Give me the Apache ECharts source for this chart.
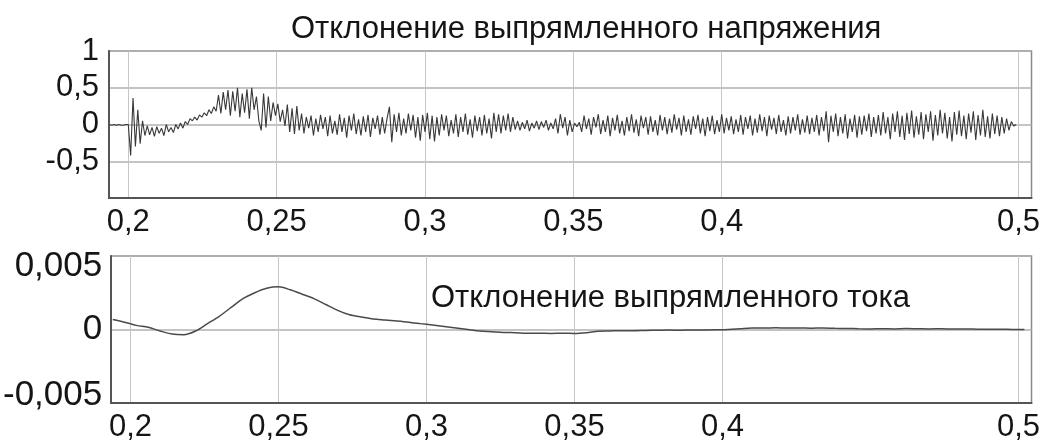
<!DOCTYPE html>
<html>
<head>
<meta charset="utf-8">
<script src="https://cdn.jsdelivr.net/npm/echarts@6/dist/echarts.min.js"></script>
<style>
  html, body { margin: 0; padding: 0; background: #fff; }
  #chart { width: 1043px; height: 445px; }
</style>
</head>
<body>
<div id="chart"></div>
<script>
// Time axis tick positions (s)
const timeTicks = [0.2, 0.25, 0.3, 0.35, 0.4, 0.5];
const voltTicks = [-1, -0.5, 0, 0.5, 1];
const currTicks = [-0.005, 0, 0.005];

// Rectified voltage deviation, sampled every voltStep seconds from voltStart
const voltStart = 0.1936;
const voltStep = 0.0008;
const voltage = [
  0, -0.01, 0, -0.01, 0, -0.01, -0.01, 0,
  0, -0.42, 0.36, -0.3, 0.2, -0.26, 0.05, -0.15,
  -0.02, -0.14, -0.04, -0.16, -0.03, -0.12, -0.05, -0.15, 0.0, -0.1, -0.04, -0.11, 0.0, -0.06, 0.02, -0.05, 0.04,
  0.0, 0.08, 0.05, 0.1, 0.06, 0.13, 0.1, 0.16, 0.12, 0.2, 0.15, 0.24,
  0.18, 0.4, 0.15, 0.44, 0.2, 0.47, 0.12, 0.45, 0.18, 0.5, 0.1, 0.42, 0.16, 0.48, 0.08, 0.5, 0.2, 0.38, 0.05,
  -0.08, 0.42, -0.04, 0.38, 0.05, 0.3, 0.12,
  0.28, 0.04, 0.2, -0.02,
  0.27, -0.1, 0.22, -0.13, 0.25, -0.08, 0.15,
  -0.12, 0.1, -0.05, 0.12, -0.15, 0.08, -0.1, 0.13, -0.06, 0.1, -0.16, 0.12, -0.12, 0.05, -0.14, 0.14,
  -0.1, 0.09, -0.18, 0.12, -0.08, 0.15, -0.13, 0.07, -0.15, 0.11, -0.1, 0.13, -0.17, 0.09, -0.06, 0.12,
  -0.14, 0.1, -0.12, 0.08,
  0.24, -0.24,
  0.14, -0.1, 0.16, -0.15, 0.08, -0.12, 0.15, -0.08, 0.13, -0.18, 0.1, -0.22,
  0.13, -0.1, 0.16, -0.2, 0.12, -0.23, 0.1, -0.15, 0.14, -0.08, 0.12, -0.16, 0.06, -0.12, 0.14, -0.17,
  0.1, -0.1, 0.15, -0.14, 0.07, -0.18, 0.12, -0.09, 0.1, -0.15, 0.13, -0.12, 0.08, -0.19, 0.16, -0.1,
  0.14, -0.12, 0.12, -0.08, 0.15, -0.1, 0.1, -0.07,
  0.05, -0.08, 0.03, -0.06, 0.06, -0.09, 0.02, -0.05, 0.05, -0.07, 0.04, -0.04, 0.06, -0.08, 0.02, -0.06, 0.08,
  -0.12, 0.14, -0.05, 0.1, -0.15, 0.06, -0.1, 0.02,
  -0.03, 0.03,
  -0.1, 0.12, -0.06, 0.08, -0.14, 0.1, -0.04, 0.14, -0.13, 0.06, -0.1, 0.12, -0.16, 0.09, -0.08, 0.13,
  -0.12, 0.05, -0.15, 0.1, -0.09, 0.14, -0.11, 0.07, -0.16, 0.12, -0.05, 0.1, -0.14, 0.11, -0.1, 0.06,
  -0.15, 0.13, -0.08, 0.1, -0.13, 0.08, -0.11, 0.14, -0.07, 0.09, -0.15, 0.12, -0.1, 0.07, -0.14, 0.11,
  -0.06, 0.13, -0.12, 0.08, -0.16, 0.1, -0.09, 0.12, -0.13, 0.06, -0.1, 0.14, -0.12, 0.09, -0.08,
  0.11, -0.13, 0.07, -0.1, 0.13, -0.14, 0.1, -0.06, 0.12, -0.15, 0.08, -0.11, 0.14, -0.09, 0.1, -0.16,
  0.12, -0.07, 0.09, -0.13, 0.13, -0.1, 0.06, -0.15, 0.11, -0.12, 0.1, -0.08, 0.14, -0.14, 0.07, -0.11,
  0.12, -0.13, 0.09, -0.1, 0.13, -0.15, 0.1, -0.09,
  0.18, -0.24, 0.12, -0.1,
  0.15, -0.16, 0.1, -0.12, 0.14, -0.19, 0.08, -0.1, 0.13, -0.18, 0.11, -0.14, 0.12, -0.09, 0.15, -0.17,
  0.1, -0.12, 0.13,
  -0.15, 0.17, -0.12, 0.1, -0.2, 0.15, -0.1, 0.18, -0.17, 0.12, -0.21, 0.16, -0.13, 0.19, -0.18, 0.11,
  -0.14, 0.17, -0.2, 0.14, -0.1, 0.18, -0.22, 0.13, -0.15, 0.2, -0.12, 0.16, -0.19, 0.1, -0.23, 0.17,
  -0.14, 0.19, -0.16, 0.12, -0.2, 0.15, -0.11, 0.18, -0.21, 0.13, -0.15, 0.2, -0.17, 0.11, -0.19, 0.15,
  -0.13, 0.12, -0.16, 0.1, -0.12, 0.08, -0.08, 0.04, -0.02, 0.0
];

// Rectified current deviation, sampled every currStep seconds from currStart
const currStart = 0.194;
const currStep = 0.004;
const current = [
  0.00068, 0.0005, 0.00028, 0.00015, -0.0001, -0.0003, -0.00035, -0.0001,
  0.0004, 0.0009, 0.0015, 0.0021, 0.0025, 0.0028, 0.0029, 0.0027,
  0.0024, 0.0021, 0.0017, 0.0013, 0.001, 0.00085, 0.00072, 0.00065,
  0.00058, 0.0005, 0.0004, 0.0003, 0.0002, 0.0001, 0.0, -0.0001,
  -0.00015, -0.0002, -0.00022, -0.00025, -0.00025, -0.00027, -0.00025, -0.00027,
  -0.00022, -0.00012, -0.0001, -0.00008, -0.00008, -0.00006, -0.00005, -0.00004,
  -0.00005, -0.00003, -0.00003, -0.00002, 0.0, 0.00005, 0.0001, 0.0001,
  0.00012, 0.0001, 0.00011, 0.00009, 0.0001, 0.00008, 0.00007, 0.00005,
  0.00004, 0.00005, 0.00004, 0.00006, 0.00005, 0.00004, 0.00005, 0.00003,
  0.00004, 0.00002, 0.00001, 0.00002, 0.0, 0.0
];

const voltTitle = 'Отклонение выпрямленного напряжения';
const currTitle = 'Отклонение выпрямленного тока';

const FONT = "'Liberation Sans', Arial, sans-serif";
const TEXT = '#151515';

function commaNum(v) {
  return String(v).replace('.', ',');
}

function toPairs(start, step, values) {
  return values.map((v, i) => [+(start + i * step).toFixed(5), v]);
}

const tMin = 0.1935;
const tMax = 0.5044;

function makeXAxis(gridIndex) {
  return {
    type: 'value',
    gridIndex: gridIndex,
    min: tMin,
    max: tMax,
    axisLine: { show: true, onZero: false, lineStyle: { color: '#555', width: 2 } },
    axisTick: { show: false, customValues: timeTicks },
    axisLabel: {
      customValues: timeTicks,
      formatter: commaNum,
      fontFamily: FONT,
      fontSize: 31,
      color: TEXT,
      margin: 9,
      showMinLabel: true,
      showMaxLabel: true
    },
    splitLine: { show: true, lineStyle: { color: '#c6c6c6', width: 1 } }
  };
}

// End labels of the current axis sit a little inside the plot frame
function currLabel(v) {
  const s = commaNum(v);
  if (v > 0) return '{low|' + s + '}';
  if (v < 0) return '{high|' + s + '}';
  return s;
}

const chart = echarts.init(document.getElementById('chart'), null, { renderer: 'canvas' });

chart.setOption({
  animation: false,
  backgroundColor: '#ffffff',
  title: [
    {
      text: voltTitle,
      left: 286,
      top: 9,
      textStyle: { fontFamily: FONT, fontSize: 31, fontWeight: 'normal', color: TEXT }
    },
    {
      text: currTitle,
      left: 426,
      top: 278,
      textStyle: { fontFamily: FONT, fontSize: 31, fontWeight: 'normal', color: TEXT }
    }
  ],
  grid: [
    { left: 109, right: 10, top: 51, height: 147, show: true, borderColor: '#8a8a8a', borderWidth: 1.5, backgroundColor: 'transparent' },
    { left: 109, right: 10, top: 256, height: 147, show: true, borderColor: '#8a8a8a', borderWidth: 1.5, backgroundColor: 'transparent' }
  ],
  xAxis: [makeXAxis(0), makeXAxis(1)],
  yAxis: [
    {
      type: 'value',
      gridIndex: 0,
      min: voltTicks[0],
      max: voltTicks[voltTicks.length - 1],
      interval: 0.5,
      axisLine: { show: true, onZero: false, lineStyle: { color: '#555', width: 2 } },
      axisTick: { show: false },
      axisLabel: {
        formatter: v => (v === -1 ? '' : commaNum(v)),
        fontFamily: FONT,
        fontSize: 31,
        color: TEXT,
        margin: 10
      },
      splitLine: { show: true, lineStyle: { color: '#b0b0b0', width: 1.5 } }
    },
    {
      type: 'value',
      gridIndex: 1,
      min: currTicks[0],
      max: currTicks[currTicks.length - 1],
      interval: 0.005,
      axisLine: { show: true, onZero: false, lineStyle: { color: '#555', width: 2 } },
      axisTick: { show: false },
      axisLabel: {
        formatter: currLabel,
        fontFamily: FONT,
        fontSize: 35,
        color: TEXT,
        margin: 9,
        rich: {
          low: { fontFamily: FONT, fontSize: 35, color: TEXT, padding: [20, 0, 0, 0] },
          high: { fontFamily: FONT, fontSize: 35, color: TEXT, padding: [0, 0, 16, 0] }
        }
      },
      splitLine: { show: true, lineStyle: { color: '#b0b0b0', width: 1.5 } }
    }
  ],
  series: [
    {
      name: voltTitle,
      type: 'line',
      xAxisIndex: 0,
      yAxisIndex: 0,
      showSymbol: false,
      data: toPairs(voltStart, voltStep, voltage),
      lineStyle: { color: '#383838', width: 1.1 }
    },
    {
      name: currTitle,
      type: 'line',
      xAxisIndex: 1,
      yAxisIndex: 1,
      showSymbol: false,
      smooth: 0.3,
      data: toPairs(currStart, currStep, current),
      lineStyle: { color: '#4a4a4a', width: 1.5 }
    }
  ]
});
</script>
</body>
</html>
